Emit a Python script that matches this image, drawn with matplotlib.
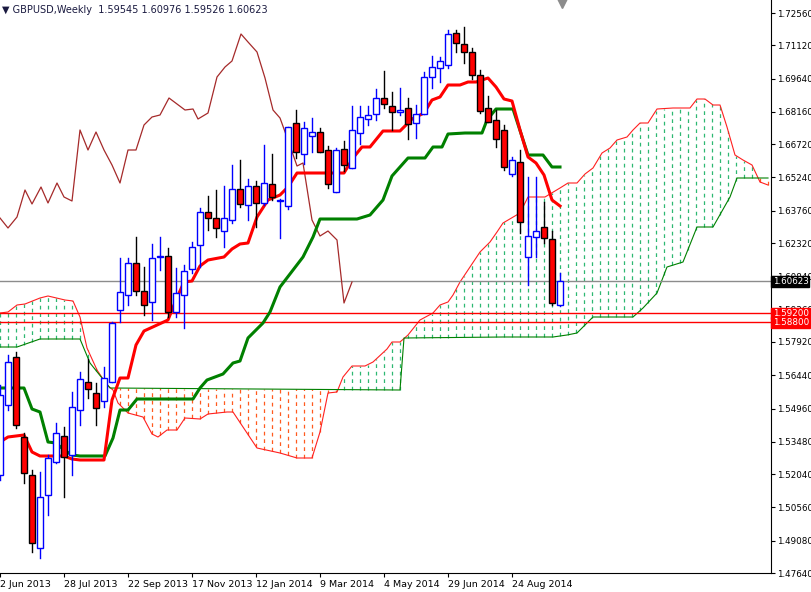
import numpy as np
import matplotlib
matplotlib.use("Agg")
import matplotlib.pyplot as plt

# === 读图刻度：像素 -> 价格 / 柱序号 ===
def y2p(y):
    return 1.7256 - (y - 13) * 0.000445

def x2b(x):
    return x / 8.0

# === 周K线 (按图读出的像素 y: open, high, low, close) ===
opens  = [475,405,357,437,475,548,495,462,436,455,410,382,393,401,382,310,295,263,291,302,
          257,256,312,295,269,245,212,218,231,220,189,205,186,203,184,201,206,123,154,136,
          132,150,192,149,168,133,119,114,98,106,112,108,123,114,77,68,65,33,44,52,
          75,108,120,130,174,162,257,237,227,239,305]
highs  = [385,355,352,433,470,472,455,423,427,392,372,359,383,367,322,258,258,237,267,244,
          237,248,268,265,242,208,196,190,186,165,160,179,181,145,154,199,127,110,122,118,
          128,146,148,141,106,106,106,89,71,92,88,98,105,72,56,57,30,30,27,48,
          70,96,110,125,157,150,177,177,202,231,273]
lows   = [480,410,428,483,552,558,515,463,497,475,425,398,425,407,382,322,305,295,315,320,
          270,317,317,328,273,267,230,237,247,223,207,220,227,205,200,238,209,158,164,152,
          152,188,192,171,168,144,125,120,108,130,115,139,138,114,88,82,68,52,63,79,
          113,122,147,170,176,233,285,257,243,305,306]
closes = [395,362,425,473,543,497,458,433,457,407,379,389,408,378,323,292,263,291,305,258,
          256,312,293,271,247,212,218,228,218,189,204,186,203,183,197,200,127,152,128,132,
          152,184,150,165,130,117,115,98,104,112,110,124,114,77,67,61,34,43,52,75,
          111,122,139,167,160,222,236,231,238,303,281]

# === Ichimoku 线 (像素 x, y 读点) ===
tenkan_x = [0,8,24,32,40,64,72,80,104,112,120,128,136,144,168,176,184,192,200,208,224,
            232,240,248,257,268,280,288,297,344,353,362,370,383,400,412,424,432,440,448,
            460,468,476,488,496,504,512,520,528,536,544,552,560]
tenkan_y = [442,437,435,452,456,456,459,460,460,400,378,378,345,331,320,300,282,281,266,
            260,257,249,244,243,217,200,195,187,173,173,158,147,147,131,131,119,113,100,97,
            85,85,82,82,78,87,99,101,130,157,163,175,200,206]
kijun_x = [0,24,32,40,48,56,64,72,80,105,113,120,128,137,193,200,207,223,233,240,248,263,
           270,280,303,313,320,357,370,383,392,408,425,433,442,448,465,482,487,496,513,528,
           543,552,560]
kijun_y = [388,388,409,412,442,443,450,455,456,456,438,410,410,399,399,388,380,374,363,
           361,338,323,312,287,257,237,219,219,215,200,176,158,158,147,147,134,133,133,120,
           109,109,155,155,167,167]
chikou_x = [0,8,17,25,32,41,48,57,64,72,80,88,96,104,112,120,128,136,144,152,160,169,185,
            193,198,208,217,225,232,241,248,257,265,273,280,288,297,303,312,320,328,337,344,352]
chikou_y = [218,228,217,190,204,187,203,183,197,201,130,150,132,150,165,183,150,150,125,117,
            115,98,110,109,119,113,77,67,61,34,42,52,78,110,118,140,166,163,220,236,231,240,
            303,282]
span_a_x = [0,8,17,25,40,48,65,73,80,87,97,107,113,118,128,143,152,158,167,177,185,200,
            208,227,233,257,280,297,312,320,328,337,343,352,365,373,387,392,400,408,420,433,
            440,448,453,460,470,480,490,497,503,520,528,545,560,568,577,585,593,602,610,617,
            627,633,640,648,657,673,690,697,705,713,720,727,735,743,752,760,768]
span_a_y = [313,312,305,304,298,296,300,301,317,348,370,385,390,403,413,417,434,437,430,
            430,418,419,414,412,412,448,453,458,458,432,393,392,377,366,366,362,349,342,342,
            335,320,313,305,302,295,282,267,252,242,232,223,213,197,197,188,183,183,174,168,
            153,148,140,137,130,123,123,109,108,108,99,99,105,105,127,155,160,165,182,185]
span_b_x = [0,17,40,48,80,90,110,400,404,503,553,567,577,593,633,643,657,667,683,697,713,
            730,737,768]
span_b_y = [347,347,339,339,339,363,388,390,338,337,337,335,333,317,317,308,293,267,262,
            227,227,197,178,178]

dates = ["2 Jun 2013", "28 Jul 2013", "22 Sep 2013", "17 Nov 2013", "12 Jan 2014",
         "9 Mar 2014", "4 May 2014", "29 Jun 2014", "24 Aug 2014"]
price_ticks = [1.72560, 1.71120, 1.69640, 1.68160, 1.66720, 1.65240, 1.63760, 1.62320,
               1.60840, 1.59360, 1.57920, 1.56440, 1.54960, 1.53480, 1.52040, 1.50560,
               1.49080, 1.47640]
last_price = 1.60623
levels = [1.59200, 1.58800]

# === 绘图 ===
fig = plt.figure(figsize=(8.12, 5.92), dpi=100)
ax = fig.add_axes([0, 19 / 592, 771 / 812, 573 / 592])
ax.set_xlim(0, x2b(771))
ax.set_ylim(y2p(573), y2p(0))

# 云层竖线
ax_b = np.array([x2b(v) for v in span_a_x]); ay = np.array([y2p(v) for v in span_a_y])
bx = np.array([x2b(v) for v in span_b_x]); by = np.array([y2p(v) for v in span_b_y])
for i in range(0, 97):
    a = np.interp(i, ax_b, ay); b = np.interp(i, bx, by)
    col = '#2eb872' if a >= b else '#ff5a1f'
    ax.plot([i, i], [min(a, b), max(a, b)], color=col, lw=0.9, ls=(0, (3, 3)), zorder=1)
ax.plot(ax_b, ay, color='#ff2020', lw=0.8, zorder=2)
ax.plot(bx, by, color='#008000', lw=0.8, zorder=2)

# 水平线
for lv in levels:
    ax.axhline(lv, color='#ff0000', lw=1.0, zorder=2)
ax.axhline(last_price, color='#8c8c8c', lw=1.0, zorder=2)

ax.plot([x2b(v) for v in chikou_x], [y2p(v) for v in chikou_y], color='#a52a2a', lw=0.9, zorder=3)
ax.plot([x2b(v) for v in kijun_x], [y2p(v) for v in kijun_y], color='#008000', lw=2.2, zorder=4)
ax.plot([x2b(v) for v in tenkan_x], [y2p(v) for v in tenkan_y], color='#ff0000', lw=2.2, zorder=5)

# K线
w = 0.36
for i in range(len(opens)):
    o, h, l, c = y2p(opens[i]), y2p(highs[i]), y2p(lows[i]), y2p(closes[i])
    if c > o:
        ax.plot([i, i], [l, h], color='#0000ff', lw=1.0, zorder=6)
        ax.add_patch(plt.Rectangle((i - w, o), 2 * w, c - o, facecolor='white',
                                   edgecolor='#0000ff', lw=1.0, zorder=7))
    else:
        ax.plot([i, i], [l, h], color='black', lw=1.0, zorder=6)
        ax.add_patch(plt.Rectangle((i - w, c), 2 * w, max(o - c, 0.0002), facecolor='#ff0000',
                                   edgecolor='black', lw=1.0, zorder=7))

# 坐标轴
for s in ['left', 'top']:
    ax.spines[s].set_visible(False)
ax.spines['right'].set_color('black')
ax.spines['bottom'].set_color('black')
ax.yaxis.tick_right()
ax.set_yticks(price_ticks)
ax.set_yticklabels([f"{p:.5f}" for p in price_ticks], fontsize=6.3)
ax.set_xticks(list(range(0, 72, 8)))
ax.set_xticklabels(dates, fontsize=6.8, ha='left')
ax.tick_params(axis='y', length=3, pad=1.5)
ax.tick_params(axis='x', length=3, pad=2)

# 右侧价格标签
for val, fc in [(levels[0], '#ff0000'), (levels[1], '#ff0000'), (last_price, 'black')]:
    ax.text(1.002, val, f"{val:.5f}", transform=ax.get_yaxis_transform(), fontsize=6.3,
            color='white', va='center', ha='left', zorder=10,
            bbox=dict(boxstyle='square,pad=0.12', fc=fc, ec=fc))

ax.plot([x2b(562)], [y2p(3)], marker='v', color='#8c8c8c', ms=7, clip_on=False)
ax.text(0.003, 0.992, "\u25bc GBPUSD,Weekly  1.59545 1.60976 1.59526 1.60623",
        transform=ax.transAxes, fontsize=7, color='#1a1a40', va='top', ha='left')

fig.savefig("out.png", dpi=100)
